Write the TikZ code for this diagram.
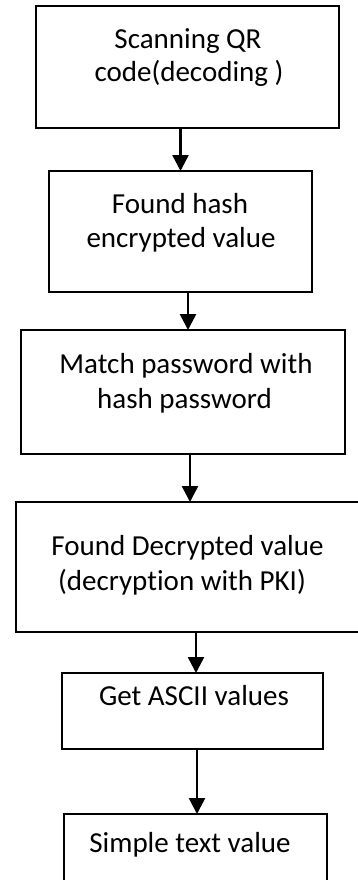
\documentclass[tikz,border=0pt]{standalone}
\usepackage{fontspec}
\setmainfont{Carlito}[Ligatures={NoCommon}]
\usetikzlibrary{arrows.meta}
\begin{document}
\begin{tikzpicture}[x=1pt,y=-1pt,
  box/.style={draw, line width=1.5pt, rectangle, inner sep=0pt, outer sep=0pt},
  txt/.style={anchor=base, inner sep=0pt, font=\fontsize{29}{35}\selectfont},
  arr/.style={line width=2.5pt, -{Triangle[width=16pt,length=16pt]}}]
\useasboundingbox (0,0) rectangle (357,880);
\fill[white] (0,0) rectangle (357,880);
% boxes
\node[box, minimum width=303pt, minimum height=122pt] (b1) at (187.5,67) {};
\node[box, minimum width=263pt, minimum height=121pt] (b2) at (180.5,231.5) {};
\node[box, minimum width=324pt, minimum height=124pt] (b3) at (183,392) {};
\node[box, minimum width=344pt, minimum height=130pt] (b4) at (188,567) {};
\node[box, minimum width=261pt, minimum height=76pt] (b5) at (192.5,711) {};
\node[box, minimum width=263pt, minimum height=86pt] (b6) at (195.5,857) {};
% texts
\node[txt] (t1a) at (188,49) {Scanning QR};
\node[txt] (t1b) at (189,82) {code(decoding )};
\node[txt] (t2a) at (180,213) {Found hash};
\node[txt] (t2b) at (181,247) {encrypted value};
\node[txt] (t3a) at (186,373) {Match password with};
\node[txt] (t3b) at (184.5,408) {hash password};
\node[txt] (t4a) at (187.5,555) {Found Decrypted value};
\node[txt] (t4b) at (182,590) {(decryption with PKI)};
\node[txt] (t5) at (194,705) {Get ASCII values};
\node[txt] (t6) at (190,852) {Simple text value};
% connector x positions
\coordinate (c1) at (180.5,0);
\coordinate (c2) at (188,0);
\coordinate (c3) at (190,0);
\coordinate (c4) at (196,0);
\coordinate (c5) at (197,0);
% connectors
\draw[arr] (b1.south -| c1) -- (b2.north -| c1);
\draw[arr] (b2.south -| c2) -- (b3.north -| c2);
\draw[arr] (b3.south -| c3) -- (b4.north -| c3);
\draw[arr] (b4.south -| c4) -- (b5.north -| c4);
\draw[arr] (b5.south -| c5) -- (b6.north -| c5);
\end{tikzpicture}
\end{document}
